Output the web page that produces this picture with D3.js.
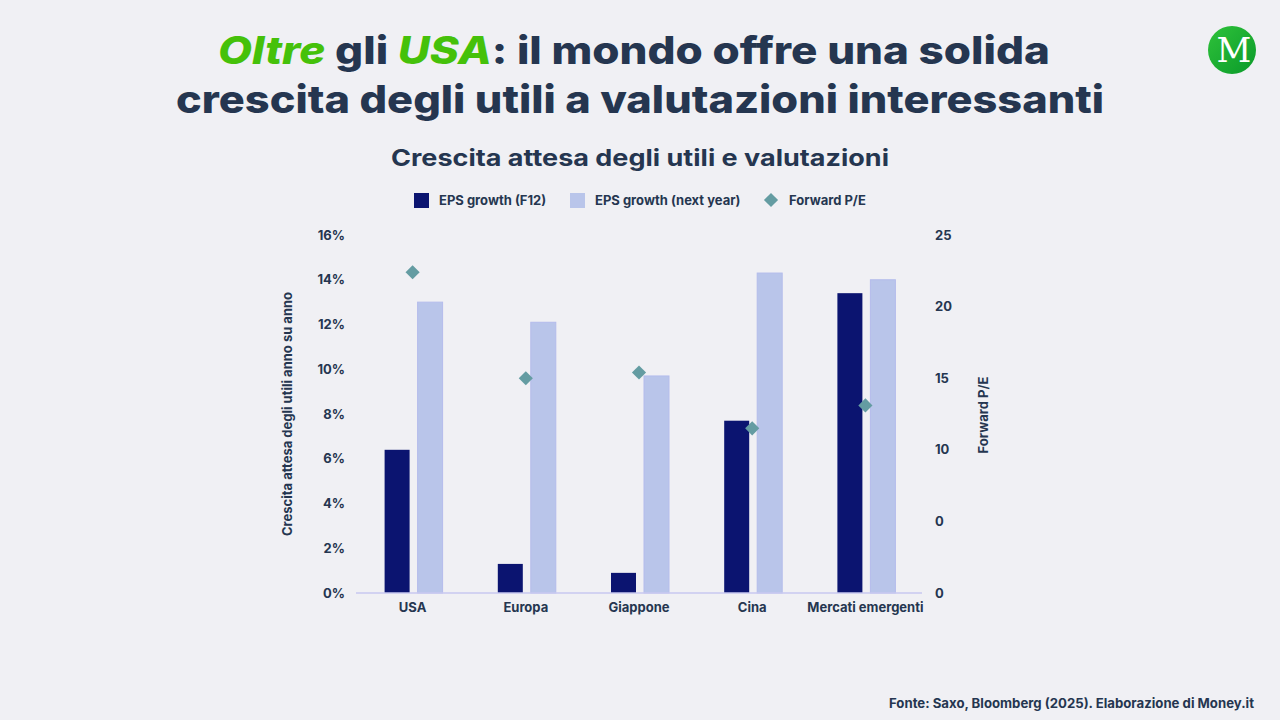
<!DOCTYPE html>
<html>
<head>
<meta charset="utf-8">
<script src="https://cdn.jsdelivr.net/npm/d3@7"></script>
<style>
  body { margin: 0; background: #f0f0f4; }
  svg { display: block; font-family: "Inter", "Noto Sans", sans-serif; }
</style>
</head>
<body>
<div id="chart"></div>
<script>
// Data
const categories = ['USA', 'Europa', 'Giappone', 'Cina', 'Mercati emergenti'];
const epsF12 = [6.4, 1.3, 0.9, 7.7, 13.4];
const epsNextYear = [13.0, 12.1, 9.7, 14.3, 14.0];
const forwardPE = [22.4, 15.0, 15.4, 11.5, 13.1];
const leftTicks = [0, 2, 4, 6, 8, 10, 12, 14, 16];
const rightTicks = [0, 5, 10, 15, 20, 25];
const rightTickLabels = ['0', '0', '10', '15', '20', '25'];

const ink = '#253650';
const dark = '#0b1470';
const light = '#b9c5ea';
const teal = '#649ca2';

const svg = d3.select('#chart')
    .append('svg')
    .attr('width', 1280)
    .attr('height', 720);

svg.append('rect').attr('width', 1280).attr('height', 720).attr('fill', '#f0f0f4');

// Title
const t1 = svg.append('text')
    .attr('x', 634).attr('y', 64)
    .attr('text-anchor', 'middle')
    .style('font-size', '38px').style('font-weight', 800)
    .attr('fill', ink)
    .attr('textLength', 832).attr('lengthAdjust', 'spacingAndGlyphs');
t1.append('tspan').attr('fill', '#45c10a').style('font-style', 'italic').text('Oltre');
t1.append('tspan').text(' gli ');
t1.append('tspan').attr('fill', '#45c10a').style('font-style', 'italic').text('USA');
t1.append('tspan').text(': il mondo offre una solida');

svg.append('text')
    .attr('x', 640).attr('y', 113)
    .attr('text-anchor', 'middle')
    .style('font-size', '38px').style('font-weight', 800)
    .attr('fill', ink)
    .attr('textLength', 928).attr('lengthAdjust', 'spacingAndGlyphs')
    .text('crescita degli utili a valutazioni interessanti');

svg.append('text')
    .attr('x', 640).attr('y', 166)
    .attr('text-anchor', 'middle')
    .style('font-size', '23px').style('font-weight', 700)
    .attr('fill', ink)
    .attr('textLength', 498).attr('lengthAdjust', 'spacingAndGlyphs')
    .text('Crescita attesa degli utili e valutazioni');

// Logo
const logo = svg.append('g').attr('transform', 'translate(1232, 50)');
const grad = svg.append('defs').append('linearGradient')
    .attr('id', 'lg').attr('x1', 0).attr('y1', 0).attr('x2', 1).attr('y2', 1);
grad.append('stop').attr('offset', 0).attr('stop-color', '#2fc23a');
grad.append('stop').attr('offset', 1).attr('stop-color', '#0a9a2a');
logo.append('circle').attr('r', 24).attr('fill', 'url(#lg)');
logo.append('text')
    .attr('x', 2).attr('y', 12)
    .attr('text-anchor', 'middle')
    .style('font-family', '"DejaVu Serif", "Liberation Serif", serif')
    .style('font-size', '34px')
    .attr('fill', '#ffffff')
    .text('M');

// Scales
const x = d3.scaleBand().domain(categories).range([356, 922]);
const y = d3.scaleLinear().domain([0, 16]).range([593, 235]);
const y2 = d3.scaleLinear().domain([0, 25]).range([593, 235]);
const barW = 25;

// Bars
svg.selectAll('.f12')
    .data(categories)
    .enter().append('rect')
    .attr('x', d => x(d) + x.bandwidth() / 2 - 3 - barW)
    .attr('y', (d, i) => y(epsF12[i]))
    .attr('width', barW)
    .attr('height', (d, i) => y(0) - y(epsF12[i]))
    .attr('fill', dark);

svg.selectAll('.next')
    .data(categories)
    .enter().append('rect')
    .attr('x', d => x(d) + x.bandwidth() / 2 + 5)
    .attr('y', (d, i) => y(epsNextYear[i]))
    .attr('width', barW)
    .attr('height', (d, i) => y(0) - y(epsNextYear[i]))
    .attr('fill', light)
    .attr('stroke', '#b4bcec')
    .attr('stroke-width', 1);

// Baseline
svg.append('line')
    .attr('x1', 356).attr('x2', 922)
    .attr('y1', y(0)).attr('y2', y(0))
    .attr('stroke', '#c9c9f0').attr('stroke-width', 1.5);

// Diamonds
svg.selectAll('.pe')
    .data(categories)
    .enter().append('path')
    .attr('d', d3.symbol().type(d3.symbolSquare).size(100))
    .attr('transform', (d, i) => `translate(${x(d) + x.bandwidth() / 2},${y2(forwardPE[i])}) rotate(45)`)
    .attr('fill', teal);

// Axes
const axisStyle = g => {
    g.select('.domain').remove();
    g.selectAll('line').remove();
    g.selectAll('text')
        .attr('fill', ink)
        .style('font-size', '13px')
        .style('font-weight', 700)
        .style('font-family', '"Inter", "Noto Sans", sans-serif');
};

svg.append('g')
    .attr('transform', 'translate(345, 0)')
    .call(d3.axisLeft(y).tickValues(leftTicks).tickFormat(d => d + '%').tickSize(0).tickPadding(0))
    .call(axisStyle);

svg.append('g')
    .attr('transform', 'translate(935, 0)')
    .call(d3.axisRight(y2).tickValues(rightTicks).tickFormat((d, i) => rightTickLabels[i]).tickSize(0).tickPadding(0))
    .call(axisStyle);

svg.append('g')
    .attr('transform', `translate(0, ${y(0)})`)
    .call(d3.axisBottom(x).tickSize(0).tickPadding(10))
    .call(axisStyle);

// Axis titles
svg.append('text')
    .attr('transform', 'translate(292, 414) rotate(-90)')
    .attr('text-anchor', 'middle')
    .style('font-size', '13px').style('font-weight', 700)
    .attr('fill', ink)
    .text('Crescita attesa degli utili anno su anno');

svg.append('text')
    .attr('transform', 'translate(988, 415) rotate(-90)')
    .attr('text-anchor', 'middle')
    .style('font-size', '13px').style('font-weight', 700)
    .attr('fill', ink)
    .text('Forward P/E');

// Legend
const legend = svg.append('g').style('font-size', '13px').style('font-weight', 700);
legend.append('rect').attr('x', 414).attr('y', 193).attr('width', 15).attr('height', 15).attr('fill', dark);
legend.append('text').attr('x', 439).attr('y', 205).attr('fill', ink).text('EPS growth (F12)');
legend.append('rect').attr('x', 570).attr('y', 193).attr('width', 15).attr('height', 15).attr('fill', light);
legend.append('text').attr('x', 595).attr('y', 205).attr('fill', ink).text('EPS growth (next year)');
legend.append('path')
    .attr('d', d3.symbol().type(d3.symbolSquare).size(100))
    .attr('transform', 'translate(771, 200) rotate(45)')
    .attr('fill', teal);
legend.append('text').attr('x', 789).attr('y', 205).attr('fill', ink).text('Forward P/E');

// Source
svg.append('text')
    .attr('x', 1254).attr('y', 708)
    .attr('text-anchor', 'end')
    .style('font-size', '13px').style('font-weight', 700)
    .attr('fill', ink)
    .attr('textLength', 365).attr('lengthAdjust', 'spacingAndGlyphs')
    .text('Fonte: Saxo, Bloomberg (2025). Elaborazione di Money.it');
</script>
</body>
</html>
